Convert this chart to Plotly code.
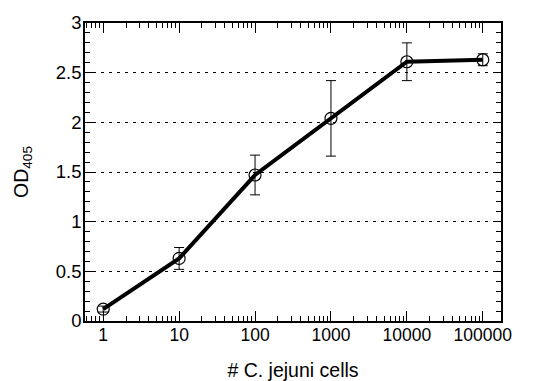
import numpy as np
import plotly.graph_objects as go

cells = [1, 10, 100, 1000, 10000, 100000]
od405 = [0.12, 0.63, 1.47, 2.04, 2.61, 2.63]
err = [0.03, 0.11, 0.20, 0.38, 0.19, 0.06]
x_ticks = [1, 10, 100, 1000, 10000, 100000]
x_ticklabels = ["1", "10", "100", "1000", "10000", "100000"]
y_ticks = [0, 0.5, 1, 1.5, 2, 2.5, 3]
y_ticklabels = ["0", "0.5", "1", "1.5", "2", "2.5", "3"]

minor_x = [m * 10 ** d for d in range(-1, 6) for m in range(2, 10)]
minor_x = [v for v in minor_x if 0.55 < v < 180000]

fig = go.Figure()
fig.add_trace(go.Scatter(
    x=cells, y=od405, mode="lines+markers",
    line=dict(color="black", width=4),
    marker=dict(symbol="circle-open", size=12, color="black", line=dict(width=1.2)),
    error_y=dict(type="data", array=err, visible=True, color="black", thickness=1, width=5),
    showlegend=False,
))

# page body has an 8px default margin, so the figure is sized to fit inside it
fig.update_layout(
    width=537, height=373,
    margin=dict(l=77, r=44, t=15, b=60),
    paper_bgcolor="white", plot_bgcolor="white",
    font=dict(family="Liberation Sans, Arial, sans-serif", size=18, color="black"),
    xaxis=dict(
        type="log", range=[-0.24, 5.24], automargin=False,
        tickvals=x_ticks, ticktext=x_ticklabels,
        ticks="inside", ticklen=10, tickwidth=1, tickcolor="black",
        minor=dict(ticks="inside", ticklen=5, tickwidth=1, tickcolor="black", tickvals=minor_x, showgrid=False),
        showline=True, linecolor="black", linewidth=1.5, mirror="allticks",
        showgrid=False, zeroline=False,
        title=dict(text="# C. jejuni cells", font=dict(size=19.5), standoff=26),
        tickfont=dict(size=17.5),
        ticklabelstandoff=-3,
    ),
    yaxis=dict(
        range=[0, 3], automargin=False,
        tickvals=y_ticks, ticktext=y_ticklabels,
        ticks="inside", ticklen=8, tickwidth=1, tickcolor="black",
        minor=dict(ticks="inside", ticklen=5, tickwidth=1, tickcolor="black", dtick=0.1, showgrid=False),
        showline=True, linecolor="black", linewidth=1.5, mirror="allticks",
        showgrid=True, gridcolor="black", gridwidth=1, griddash="3px,5px",
        zeroline=False,
        title=dict(text="OD<sub>405</sub>", font=dict(size=19.5), standoff=22),
        tickfont=dict(size=18.5),
        ticklabelstandoff=-2,
    ),
)
fig.write_html("out.html")
